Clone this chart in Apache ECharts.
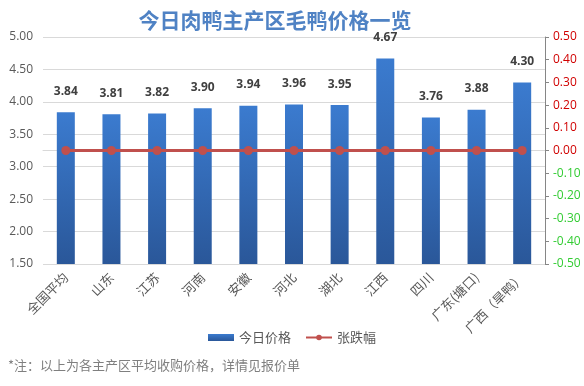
<!DOCTYPE html>
<html><head><meta charset="utf-8">
<script src="https://cdn.jsdelivr.net/npm/echarts@6/dist/echarts.min.js"></script>
<style>html,body{margin:0;padding:0;background:#fff}#c{width:584px;height:386px}</style>
</head><body><div id="c"></div>
<script>
const categories = ['全国平均','山东','江苏','河南','安徽','河北','湖北','江西','四川','广东(塘口)','广西（旱鸭）'];
const prices = [3.84,3.81,3.82,3.90,3.94,3.96,3.95,4.67,3.76,3.88,4.30];
const changes = [0,0,0,0,0,0,0,0,0,0,0];
const titleText = '今日肉鸭主产区毛鸭价格一览';
const footnote = '*注：以上为各主产区平均收购价格，详情见报价单';
const FF = '"Open Sans","Noto Sans CJK SC",sans-serif';
const CJK = '"Noto Sans CJK SC",sans-serif';
const chart = echarts.init(document.getElementById('c'));
chart.setOption({
  animation:false,
  textStyle:{fontFamily:FF},
  title:{text:titleText,left:270,top:5,textAlign:'center',textStyle:{color:'#4f82c4',fontSize:21,fontWeight:'bold',fontFamily:CJK}},
  grid:{left:43,right:39,top:37,bottom:122,containLabel:false},
  legend:{left:'center',top:326,itemGap:14,itemWidth:26,itemHeight:7,
    textStyle:{color:'#595959',fontSize:13,fontFamily:CJK},
    data:[{name:'今日价格',icon:'rect'},{name:'张跌幅'}]},
  graphic:[{type:'text',left:8,top:359,style:{text:footnote,fill:'#7f7f7f',fontSize:13,fontFamily:CJK}}],
  xAxis:{type:'category',data:categories,
    axisLine:{lineStyle:{color:'#d9d9d9'}},axisTick:{show:false},
    axisLabel:{rotate:45,interval:0,color:'#595959',fontSize:13,margin:11,fontFamily:CJK}},
  yAxis:[
    {type:'value',min:1.5,max:5,interval:0.5,
     axisLine:{show:false},axisTick:{show:false},
     axisLabel:{color:'#595959',fontSize:12,margin:10,formatter:v=>v.toFixed(2)},
     splitLine:{lineStyle:{color:'#d9d9d9'}}},
    {type:'value',min:-0.5,max:0.5,interval:0.1,
     axisLine:{show:true,lineStyle:{color:'#868686'}},
     axisTick:{show:true,length:4,lineStyle:{color:'#868686'}},
     splitLine:{show:false},
     axisLabel:{fontSize:12,margin:8,formatter:v=>(Math.abs(v)<1e-9?0:v).toFixed(2),
       color:(v)=>{const n=Number(v);return n< -1e-9?'#33cc33':'#d00000';}}}
  ],
  series:[
    {name:'今日价格',type:'bar',data:prices,barWidth:18,
     itemStyle:{color:new echarts.graphic.LinearGradient(0,0,0,1,[{offset:0,color:'#3b7bcf'},{offset:1,color:'#2a5799'}])},
     label:{show:true,position:'top',distance:15,color:'#404040',fontSize:12,fontWeight:'bold',formatter:p=>p.value.toFixed(2)}},
    {name:'张跌幅',type:'line',yAxisIndex:1,data:changes,symbol:'circle',symbolSize:9,
     lineStyle:{color:'#c0504d',width:3},itemStyle:{color:'#c0504d'}}
  ]
});
</script></body></html>
